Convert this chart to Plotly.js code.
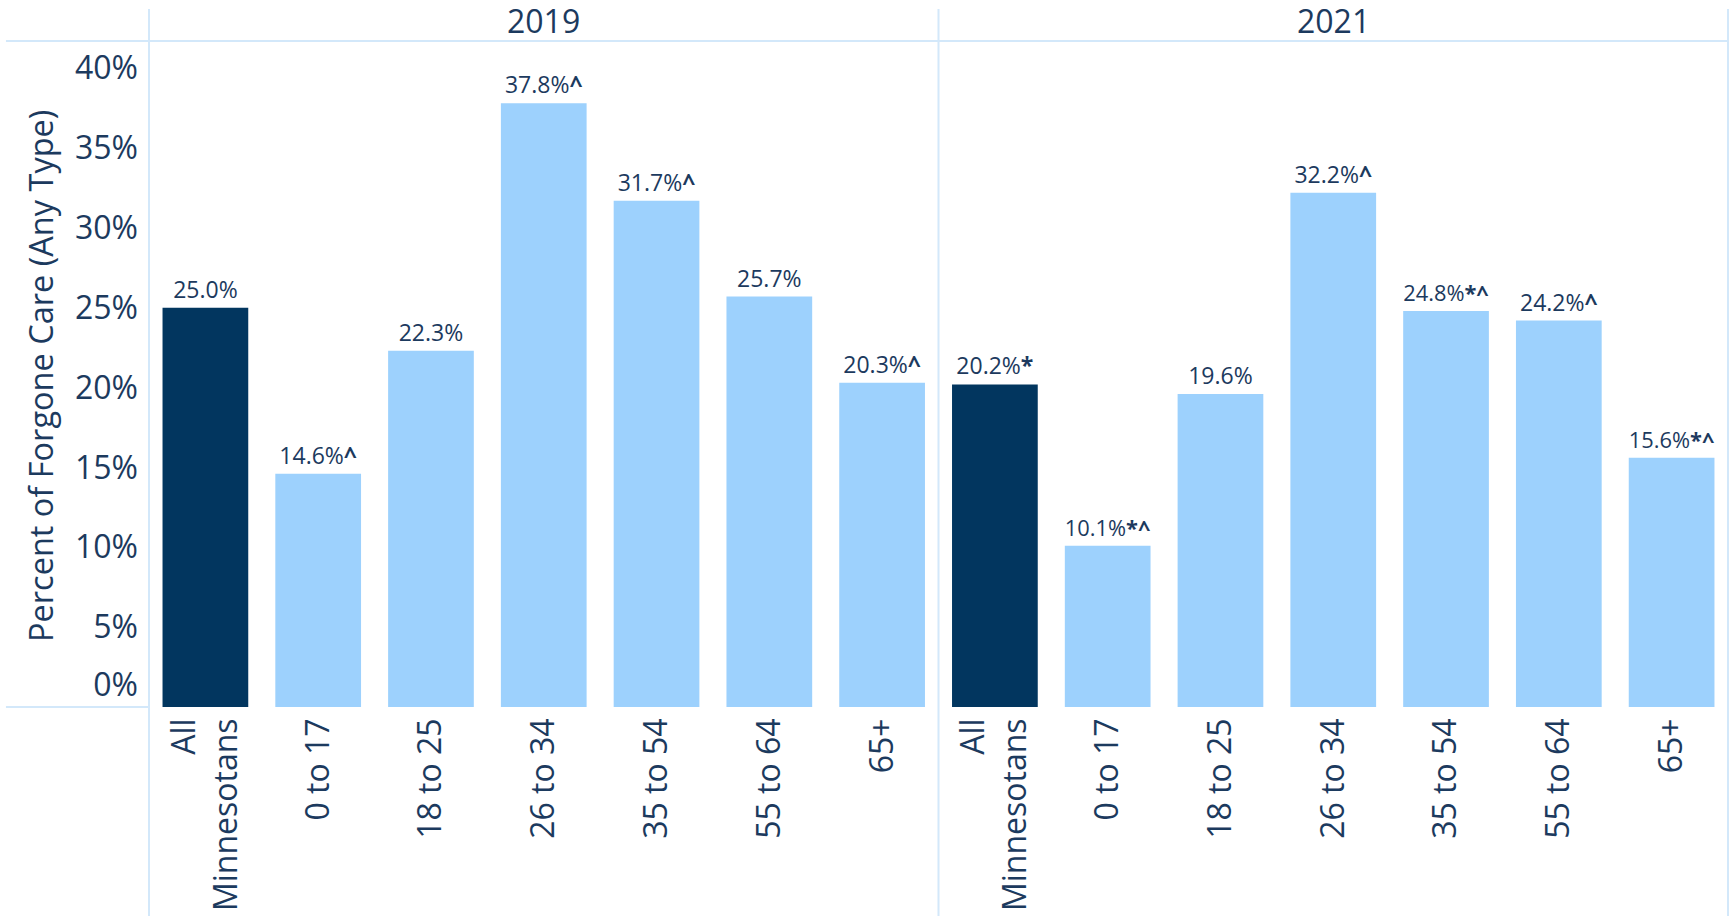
<!DOCTYPE html>
<html>
<head>
<meta charset="utf-8">
<script src="https://cdn.plot.ly/plotly-3.0.1.min.js"></script>
<style>html,body{margin:0;padding:0;background:#fff;}#chart{width:1730px;height:916px;}</style>
</head>
<body>
<div id="chart"></div>
<script>
// ---- data ----
const categories = ["All<br>Minnesotans", "0 to 17", "18 to 25", "26 to 34", "35 to 54", "55 to 64", "65+"];
const years = ["2019", "2021"];
const values2019 = [25.0, 14.6, 22.3, 37.8, 31.7, 25.7, 20.3];
const values2021 = [20.2, 10.1, 19.6, 32.2, 24.8, 24.2, 15.6];
const marks2019 = ["", "^", "", "^", "^", "", "^"];
const marks2021 = ["*", "*^", "", "^", "*^", "^", "*^"];
const yTickVals = [1.4, 5, 10, 15, 20, 25, 30, 35, 40];
const yTickText = ["0%", "5%", "10%", "15%", "20%", "25%", "30%", "35%", "40%"];
const yTitle = "Percent of Forgone Care (Any Type)";

// ---- style ----
const DARK = "#02365F";
const LIGHT = "#9DD1FD";
const TXT = "#1C3A5E";
const LINE = "#D3E8FA";
const FONT = "Open Sans, sans-serif";

function labels(vals, marks) {
  return vals.map((v, i) => v.toFixed(1) + "%" + (marks[i] ? "<b>" + marks[i] + "</b>" : ""));
}
function colors(n) { return Array.from({length: n}, (_, i) => i === 0 ? DARK : LIGHT); }

const traces = [
  {type: "bar", x: categories, y: values2019, xaxis: "x", yaxis: "y",
   marker: {color: colors(categories.length)},
   text: labels(values2019, marks2019), textposition: "outside", cliponaxis: false,
   textfont: {family: FONT, size: 23, color: TXT}, hoverinfo: "none"},
  {type: "bar", x: categories, y: values2021, xaxis: "x2", yaxis: "y",
   marker: {color: colors(categories.length)},
   text: labels(values2021, marks2021), textposition: "outside", cliponaxis: false,
   textfont: {family: FONT, size: 23, color: TXT}, hoverinfo: "none"}
];

const xCommon = {
  type: "category", showgrid: false, zeroline: false, showline: false, ticks: "",
  tickangle: -90, tickfont: {family: FONT, size: 32, color: TXT}, ticklabelstandoff: 4,
  fixedrange: true
};

const layout = {
  width: 1730, height: 916,
  margin: {l: 149, r: 2, t: 41, b: 209, pad: 0},
  paper_bgcolor: "#fff", plot_bgcolor: "#fff",
  showlegend: false, bargap: 0.24,
  xaxis: Object.assign({}, xCommon, {domain: [0, 0.5], anchor: "y"}),
  xaxis2: Object.assign({}, xCommon, {domain: [0.5, 1], anchor: "y"}),
  yaxis: {range: [0, 41.7], showgrid: false, zeroline: false, showline: false, ticks: "",
    tickvals: yTickVals, ticktext: yTickText, ticklabelstandoff: 10,
    tickfont: {family: FONT, size: 32, color: TXT}, fixedrange: true},
  annotations: [
    {text: years[0], xref: "paper", yref: "paper", x: 0.25, y: 1, yshift: 21, showarrow: false,
     xanchor: "center", yanchor: "middle", font: {family: FONT, size: 32, color: TXT}},
    {text: years[1], xref: "paper", yref: "paper", x: 0.75, y: 1, yshift: 21, showarrow: false,
     xanchor: "center", yanchor: "middle", font: {family: FONT, size: 32, color: TXT}},
    {text: yTitle, xref: "paper", yref: "paper", x: -0.0684, y: 0.497, textangle: -90, showarrow: false,
     xanchor: "center", yanchor: "middle", font: {family: FONT, size: 32.5, color: TXT}}
  ],
  shapes: [
    // header underline
    {type: "line", xref: "paper", yref: "paper", x0: -0.0906, x1: 1, y0: 1, y1: 1, line: {color: LINE, width: 2}},
    // baseline in the axis column
    {type: "line", xref: "paper", yref: "paper", x0: -0.0906, x1: 0, y0: 0, y1: 0, line: {color: LINE, width: 2}},
    // vertical dividers
    {type: "line", xref: "paper", yref: "paper", x0: 0, x1: 0, y0: -0.314, y1: 1.048, line: {color: LINE, width: 2}},
    {type: "line", xref: "paper", yref: "paper", x0: 0.5, x1: 0.5, y0: -0.314, y1: 1.048, line: {color: LINE, width: 2}},
    {type: "line", xref: "paper", yref: "paper", x0: 1, x1: 1, y0: -0.314, y1: 1.048, line: {color: LINE, width: 2}}
  ]
};

Plotly.newPlot("chart", traces, layout, {displayModeBar: false, staticPlot: true});
</script>
</body>
</html>
